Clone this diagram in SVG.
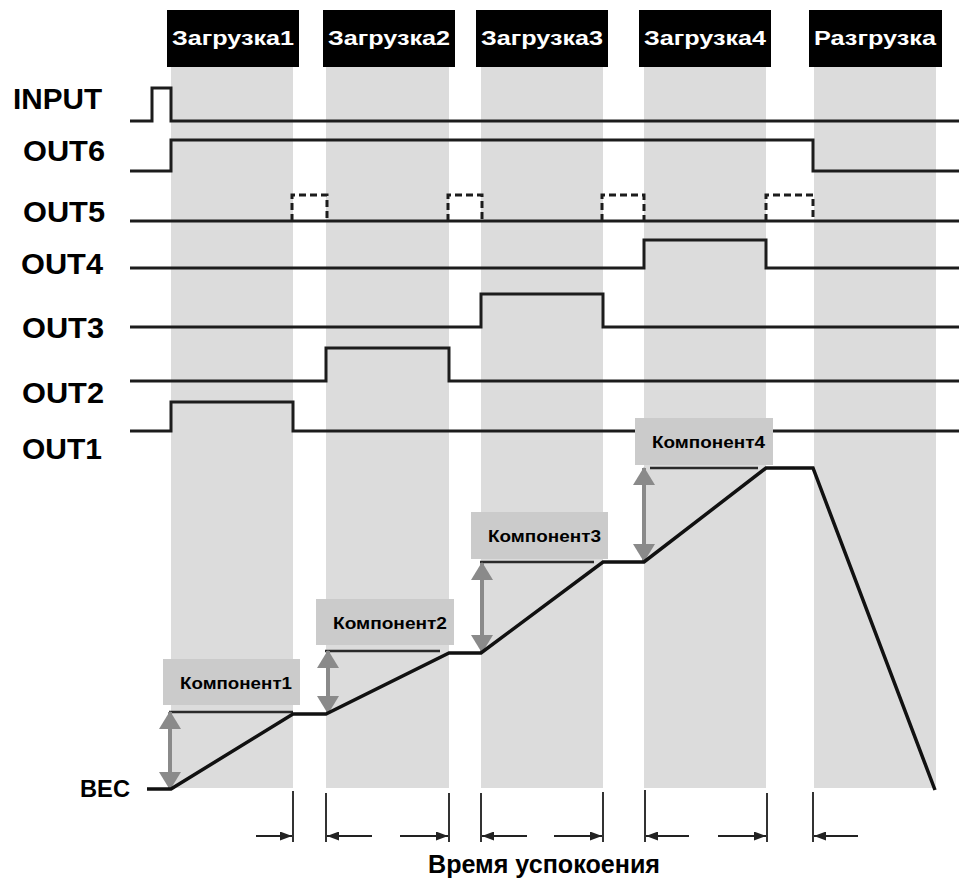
<svg xmlns="http://www.w3.org/2000/svg" width="959" height="878" viewBox="0 0 959 878">
  <style>
    .band { fill: #dcdcdc; }
    .hdr rect { fill: #000; }
    .hdr text { fill: #fff; font-family: "Liberation Sans", Arial, sans-serif; font-weight: bold; font-size: 21px; text-anchor: middle; }
    .lbl { fill: #000; font-family: "Liberation Sans", Arial, sans-serif; font-weight: bold; font-size: 29px; }
    .sig { fill: none; stroke: #1c1c1c; stroke-width: 3; stroke-linejoin: miter; }
    .dash { fill: none; stroke: #1c1c1c; stroke-width: 3; stroke-dasharray: 7 4; }
    .comp rect { fill: #cbcbcb; }
    .comp text { fill: #000; font-family: "Liberation Sans", Arial, sans-serif; font-weight: bold; font-size: 17px; }
    .ref { stroke: #2a2a2a; stroke-width: 2.5; }
    .dbl { stroke: #8a8a8a; stroke-width: 4; marker-start: url(#gh); marker-end: url(#gh); }
    .tick { stroke: #333; stroke-width: 2; }
    .settle { stroke: #222; stroke-width: 2; marker-end: url(#bh); }
    .weight { fill: none; stroke: #111; stroke-width: 3.5; stroke-linejoin: miter; }
  </style>
  <defs>
    <marker id="gh" markerUnits="userSpaceOnUse" markerWidth="22" markerHeight="22" viewBox="0 0 18 22" refX="17" refY="11" orient="auto-start-reverse">
      <path d="M0 0 L18 11 L0 22 Z" fill="#8a8a8a"/>
    </marker>
    <marker id="bh" markerUnits="userSpaceOnUse" markerWidth="12" markerHeight="9" viewBox="0 0 12 9" refX="12" refY="4.5" orient="auto">
      <path d="M0 0 L12 4.5 L0 9 Z" fill="#222"/>
    </marker>
  </defs>

  <rect width="959" height="878" fill="#fff"/>

  <!-- phase columns -->
  <g id="bands">
    <rect class="band" x="171" y="67" width="122" height="721"/>
    <rect class="band" x="326" y="67" width="123" height="721"/>
    <rect class="band" x="481" y="67" width="122" height="721"/>
    <rect class="band" x="644" y="67" width="122" height="721"/>
    <rect class="band" x="814" y="67" width="122" height="721"/>
  </g>

  <!-- phase headers -->
  <g id="hdr-load1" class="hdr"><rect x="167" y="10" width="132" height="57"/><text x="233" y="45" textLength="122" lengthAdjust="spacingAndGlyphs">Загрузка1</text></g>
  <g id="hdr-load2" class="hdr"><rect x="323" y="10" width="132" height="57"/><text x="389" y="45" textLength="122" lengthAdjust="spacingAndGlyphs">Загрузка2</text></g>
  <g id="hdr-load3" class="hdr"><rect x="476" y="10" width="132" height="57"/><text x="542" y="45" textLength="122" lengthAdjust="spacingAndGlyphs">Загрузка3</text></g>
  <g id="hdr-load4" class="hdr"><rect x="639" y="10" width="132" height="57"/><text x="705" y="45" textLength="122" lengthAdjust="spacingAndGlyphs">Загрузка4</text></g>
  <g id="hdr-unload" class="hdr"><rect x="809" y="10" width="133" height="57"/><text x="875" y="45" textLength="122" lengthAdjust="spacingAndGlyphs">Разгрузка</text></g>

  <!-- signal names -->
  <g id="labels">
    <text class="lbl" x="13" y="109" textLength="89" lengthAdjust="spacingAndGlyphs">INPUT</text>
    <text class="lbl" x="23" y="161" textLength="82" lengthAdjust="spacingAndGlyphs">OUT6</text>
    <text class="lbl" x="23" y="222" textLength="82" lengthAdjust="spacingAndGlyphs">OUT5</text>
    <text class="lbl" x="21" y="274" textLength="82" lengthAdjust="spacingAndGlyphs">OUT4</text>
    <text class="lbl" x="22" y="338" textLength="82" lengthAdjust="spacingAndGlyphs">OUT3</text>
    <text class="lbl" x="22" y="403" textLength="82" lengthAdjust="spacingAndGlyphs">OUT2</text>
    <text class="lbl" x="22" y="459" textLength="80" lengthAdjust="spacingAndGlyphs">OUT1</text>
    <text class="lbl" x="80" y="797" style="font-size:24px" textLength="50" lengthAdjust="spacingAndGlyphs">BEC</text>
  </g>

  <!-- signal traces -->
  <g id="signals">
    <path id="sig-input" class="sig" d="M130 121 H152 V88 H171 V121 H959"/>
    <path id="sig-out6" class="sig" d="M130 171 H171 V140 H813 V171 H959"/>
    <g id="sig-out5">
      <path class="sig" d="M130 221 H959"/>
      <path class="dash" d="M292 221 V195 H327 V221"/>
      <path class="dash" d="M448 221 V195 H482 V221"/>
      <path class="dash" d="M602 221 V195 H644 V221"/>
      <path class="dash" d="M766 221 V195 H813 V221"/>
    </g>
    <path id="sig-out4" class="sig" d="M130 268 H644 V240 H766 V268 H959"/>
    <path id="sig-out3" class="sig" d="M130 327 H481 V294 H603 V327 H959"/>
    <path id="sig-out2" class="sig" d="M130 381 H326 V348 H449 V381 H959"/>
    <path id="sig-out1" class="sig" d="M130 431 H171 V402 H293 V431 H959"/>
  </g>

  <!-- component labels -->
  <g id="comp1" class="comp"><rect x="163" y="659" width="137" height="46"/><text x="180" y="689" textLength="112" lengthAdjust="spacingAndGlyphs">Компонент1</text></g>
  <g id="comp2" class="comp"><rect x="316" y="599" width="138" height="46"/><text x="333" y="629" textLength="114" lengthAdjust="spacingAndGlyphs">Компонент2</text></g>
  <g id="comp3" class="comp"><rect x="471" y="512" width="137" height="47"/><text x="488" y="542" textLength="113" lengthAdjust="spacingAndGlyphs">Компонент3</text></g>
  <g id="comp4" class="comp"><rect x="635" y="418" width="138" height="47"/><text x="652" y="448" textLength="113" lengthAdjust="spacingAndGlyphs">Компонент4</text></g>

  <!-- weight curve with increments -->
  <g id="weight">
    <line class="ref" x1="169" y1="712" x2="293" y2="712"/>
    <line class="ref" x1="325" y1="651" x2="440" y2="651"/>
    <line class="ref" x1="480" y1="562" x2="594" y2="562"/>
    <line class="ref" x1="650" y1="468" x2="758" y2="468"/>
    <line class="dbl" x1="170" y1="712" x2="170" y2="789"/>
    <line class="dbl" x1="328" y1="651" x2="328" y2="713"/>
    <line class="dbl" x1="482" y1="563" x2="482" y2="652"/>
    <line class="dbl" x1="644" y1="468" x2="644" y2="561"/>
    <path class="weight" d="M147 789 H171 L293 714 H326 L449 653 H481 L603 562 H644 L766 468 H813 L935 790"/>
  </g>

  <!-- settling time markers -->
  <g id="connectors">
    <line class="tick" x1="293" y1="791" x2="293" y2="842"/>
    <line class="tick" x1="326" y1="793" x2="326" y2="842"/>
    <line class="tick" x1="449" y1="793" x2="449" y2="842"/>
    <line class="tick" x1="481" y1="793" x2="481" y2="842"/>
    <line class="tick" x1="603" y1="792" x2="603" y2="842"/>
    <line class="tick" x1="645" y1="790" x2="645" y2="842"/>
    <line class="tick" x1="767" y1="793" x2="767" y2="842"/>
    <line class="tick" x1="813" y1="792" x2="813" y2="842"/>
    <line class="settle" x1="256" y1="836" x2="292" y2="836"/>
    <line class="settle" x1="372" y1="836" x2="327" y2="836"/>
    <line class="settle" x1="400" y1="836" x2="448" y2="836"/>
    <line class="settle" x1="527" y1="836" x2="482" y2="836"/>
    <line class="settle" x1="554" y1="836" x2="602" y2="836"/>
    <line class="settle" x1="689" y1="836" x2="646" y2="836"/>
    <line class="settle" x1="718" y1="836" x2="766" y2="836"/>
    <line class="settle" x1="858" y1="836" x2="814" y2="836"/>
  </g>
  <text id="settle-label" x="544" y="873" text-anchor="middle" font-family="'Liberation Sans', Arial, sans-serif" font-weight="bold" font-size="25" textLength="232" lengthAdjust="spacingAndGlyphs">Время успокоения</text>
</svg>
